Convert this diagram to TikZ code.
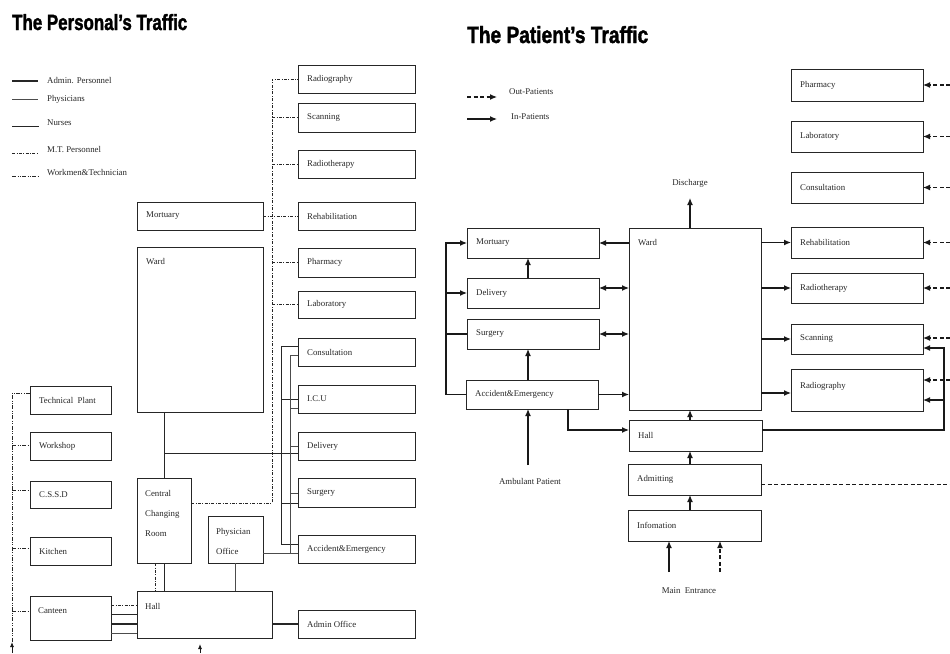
\documentclass[tikz,border=0pt]{standalone}
\usepackage{fontspec}
\usepackage{graphicx}
\setmainfont{Liberation Serif}
\newfontfamily\titlefont[BoldFeatures={FakeBold=1.8}]{Liberation Sans}
\usetikzlibrary{arrows.meta,calc}
\newcommand{\bxe}[5]{%
  \node[box, minimum width={#4pt-#2pt}, minimum height={#5pt-#3pt}] (#1) at ({(#2+#4)/2},{(#3+#5)/2}) {};}
\newcommand{\bx}[6]{%
  \bxe{#1}{#2}{#3}{#4}{#5}%
  \node[lbl, anchor=west] (#1t) at ([xshift=9pt]#1.west) {#6};}
\tikzset{
  box/.style={draw=black!85, line width=0.8pt, inner sep=0pt, outer sep=0pt},
  lbl/.style={inner sep=0pt, font=\fontsize{8.8}{10}\selectfont, text=black!85},
  admin/.style={line width=1.8pt, black!85},
  phys/.style={line width=0.45pt, black!70},
  nurse/.style={line width=0.9pt, black!85},
  mt/.style={line width=0.8pt, black!85, dash pattern=on 3pt off 1.5pt on 0.8pt off 1.5pt},
  wm/.style={line width=0.8pt, black!85, dash pattern=on 4pt off 1.5pt on 0.8pt off 1.5pt on 0.8pt off 1.5pt},
  >={Latex[length=7pt,width=6pt]},
  inpat/.style={line width=1.2pt, black!90},
  outpat/.style={line width=1.2pt, black!90, dash pattern=on 4pt off 2.5pt},
  smallarr/.style={line width=0.8pt, black!90, -{Latex[length=5pt,width=4pt]}},
}
\begin{document}
\begin{tikzpicture}[x=1pt,y=-1pt]
\useasboundingbox (0,0) rectangle (950,653);

% ---------------- titles
\node[inner sep=0pt, anchor=base west] (t1) at (12,30) {\resizebox{175pt}{16pt}{\titlefont\bfseries The Personal’s Traffic}};
\node[inner sep=0pt, anchor=base west] (t2) at (467,43) {\resizebox{181pt}{17pt}{\titlefont\bfseries The Patient’s Traffic}};

% ---------------- left legend
\draw[admin] (12,81) -- (38,81);
\node[lbl, anchor=west] (lg1) at (47,81) {Admin. Personnel};
\draw[phys] (12,99) -- (38,99);
\node[lbl, anchor=west] (lg2) at (47,99) {Physicians};
\draw[nurse] (12,126) -- (39,126);
\node[lbl, anchor=west] (lg3) at (47,123) {Nurses};
\draw[mt] (12,153) -- (38,153);
\node[lbl, anchor=west] (lg4) at (47,150) {M.T. Personnel};
\draw[wm] (12,176) -- (38,176);
\node[lbl, anchor=west] (lg5) at (47,173) {Workmen\&Technician};

% ---------------- left boxes
\bx{radioL}{298}{65}{415}{93}{Radiography}
\bx{scanL}{298}{103}{415}{132}{Scanning}
\bx{rthL}{298}{150}{415}{178}{Radiotherapy}
\bx{rehabL}{298}{202}{415}{230}{Rehabilitation}
\bx{pharmL}{298}{248}{415}{277}{Pharmacy}
\bx{labL}{298}{291}{415}{318}{Laboratory}
\bx{consL}{298}{338}{415}{366}{Consultation}
\bx{icuL}{298}{385}{415}{413}{I.C.U}
\bx{delL}{298}{432}{415}{460}{Delivery}
\bx{surgL}{298}{478}{415}{507}{Surgery}
\bx{aeL}{298}{535}{415}{563}{Accident\&Emergency}
\bx{admL}{298}{610}{415}{638}{Admin Office}
\bx{mortL}{137}{202}{263}{230}{Mortuary}
\bxe{wardL}{137}{247}{263}{412}
\node[lbl, anchor=west] (wardLt) at (146,262) {Ward};
\bxe{ccr}{137}{478}{191}{563}
\node[lbl, anchor=west, align=left] (ccrt) at (145,513) {Central\\[10pt]Changing\\[10pt]Room};
\bxe{phys}{208}{516}{263}{563}
\node[lbl, anchor=west, align=left] (physt) at (216,541) {Physician\\[10pt]Office};
\bxe{hallL}{137}{591}{272}{638}
\node[lbl, anchor=west] (hallLt) at (145,606) {Hall};
\bx{tech}{30}{386}{111}{414}{Technical\ \ Plant}
\bx{work}{30}{432}{111}{460}{Workshop}
\bx{cssd}{30}{481}{111}{508}{C.S.S.D}
\bx{kitch}{30}{537}{111}{565}{Kitchen}
\bxe{cant}{30}{596}{111}{640}
\node[lbl, anchor=west] (cantt) at (38,611) {Canteen};

% M.T. personnel
\coordinate (mtTop) at (272,79);
\coordinate (mtBot) at (272,503);
\draw[mt] (ccr.east |- mtBot) -- (mtBot) -- (mtTop) -- (radioL.west);
\foreach \b in {scanL,rthL,pharmL,labL} \draw[mt] (mtTop |- \b.west) -- (\b.west);
\draw[mt] (mortL.east) -- (rehabL.west);

% nurses
\coordinate (nx) at (164,453);
\draw[nurse] (wardL.south -| nx) -- (ccr.north -| nx);
\draw[nurse] (nx) -- (delL.west |- nx);
\coordinate (o1) at (281,346);
\coordinate (o2) at (281,544);
\coordinate (o3) at (281,503);
\draw[nurse] (consL.west |- o1) -- (o1) -- (o2) -- (aeL.west |- o2);
\draw[nurse] (o1 |- icuL.west) -- (icuL.west);
\draw[nurse] (o3) -- (surgL.west |- o3);

% physicians
\coordinate (p1) at (290,355);
\coordinate (p2) at (290,553);
\draw[phys] (consL.west |- p1) -- (p1) -- (p2);
\draw[phys] (phys.east |- p2) -- (aeL.west |- p2);
\foreach \b/\yy in {icuL/408,delL/446,surgL/493} \draw[phys] (290,\yy) -- (\b.west |- 290,\yy);
\draw[phys] (phys.south) -- (hallL.north -| phys.south);

% hall links
\coordinate (cx1) at (155,0);
\draw[mt] (ccr.south -| cx1) -- (hallL.north -| cx1);
\draw[nurse] (ccr.south -| nx) -- (hallL.north -| nx);
\draw[admin] (hallL.east |- admL.west) -- (admL.west);
\path ([yshift=13pt]cant.east) coordinate (ca1)
      ([yshift=4pt]cant.east) coordinate (ca2)
      ([yshift=-6pt]cant.east) coordinate (ca3)
      ([yshift=-15pt]cant.east) coordinate (ca4);
\draw[mt] (ca1) -- (ca1 -| hallL.west);
\draw[nurse] (ca2) -- (ca2 -| hallL.west);
\draw[admin] (ca3) -- (ca3 -| hallL.west);
\draw[phys] (ca4) -- (ca4 -| hallL.west);
\coordinate (hb) at (200,653);
\coordinate (ha) at (200,644);
\draw[smallarr] (hb) -- (ha);

% workmen
\coordinate (wTop) at (12,393);
\coordinate (wBot) at (12,643);
\draw[wm] (tech.west |- wTop) -- (wTop) -- (wBot);
\foreach \b/\yy in {work/445,cssd/490,kitch/548,cant/611} \draw[wm] (12,\yy) -- (\b.west |- 12,\yy);
\coordinate (wb) at (12,653);
\draw[smallarr] (wb) -- (12,642);

% ---------------- right legend
\draw[outpat,->] (467,97) -- (497,97);
\node[lbl, anchor=west] (lr1) at (509,92) {Out-Patients};
\draw[inpat,->] (467,119) -- (497,119);
\node[lbl, anchor=west] (lr2) at (511,117) {In-Patients};

% ---------------- right boxes
\bx{pharmR}{791}{69}{923}{101}{Pharmacy}
\bx{labR}{791}{121}{923}{152}{Laboratory}
\bx{consR}{791}{172}{923}{203}{Consultation}
\bx{rehabR}{791}{227}{923}{258}{Rehabilitation}
\bx{rthR}{791}{273}{923}{303}{Radiotherapy}
\bx{scanR}{791}{324}{923}{354}{Scanning}
\bxe{radioR}{791}{369}{923}{411}
\node[lbl, anchor=west] (radioRt) at (800,386) {Radiography};
\bx{mortR}{467}{228}{599}{258}{Mortuary}
\bx{delR}{467}{278}{599}{308}{Delivery}
\bx{surgR}{467}{319}{599}{349}{Surgery}
\bx{aeR}{466}{380}{598}{409}{Accident\&Emergency}
\bxe{wardR}{629}{228}{761}{410}
\node[lbl, anchor=west] (wardRt) at (638,243) {Ward};
\bx{hallR}{629}{420}{762}{451}{Hall}
\bx{admR}{628}{464}{761}{495}{Admitting}
\bx{infoR}{628}{510}{761}{541}{Infomation}

% ward left side
\draw[inpat,->] (wardR.west |- mortR.east) -- (mortR.east);
\path ([yshift=5pt]delR.east) coordinate (dE);
\draw[inpat,<->] (dE) -- (dE -| wardR.west);
\draw[inpat,<->] (surgR.east) -- (surgR.east -| wardR.west);
\draw[inpat,->] (aeR.east) -- (aeR.east -| wardR.west);
\coordinate (colA) at (528,0);
\draw[inpat,->] (delR.north -| colA) -- (mortR.south -| colA);
\draw[inpat,->] (aeR.north -| colA) -- (surgR.south -| colA);
\coordinate (ambS) at (528,465);
\draw[inpat,->] (ambS) -- (aeR.south -| colA);
\node[lbl] (ambT) at (530,481) {Ambulant Patient};
\coordinate (colB) at (568,0);
\path ([yshift=5.5pt]hallR.west) coordinate (hW);
\draw[inpat,->] (aeR.south -| colB) |- (hW);
\coordinate (lx) at (446,0);
\draw[inpat,->] (aeR.west) -| (lx |- mortR.west) -- (mortR.west);
\draw[inpat,->] (lx |- delR.west) -- (delR.west);
\draw[inpat] (lx |- surgR.west) -- (surgR.west);

% vertical spine
\coordinate (colC) at (690,0);
\coordinate (dis) at (690,198);
\draw[inpat,->] (wardR.north -| colC) -- (dis);
\node[lbl] (disT) at (690,183) {Discharge};
\draw[inpat,->] (hallR.north -| colC) -- (wardR.south -| colC);
\draw[inpat,->] (admR.north -| colC) -- (hallR.south -| colC);
\draw[inpat,->] (infoR.north -| colC) -- (admR.south -| colC);
\coordinate (m1) at (669,572);
\coordinate (m2) at (720,572);
\draw[inpat,->] (m1) -- (infoR.south -| m1);
\draw[outpat,->] (m2) -- (infoR.south -| m2);
\node[lbl] (mainT) at (689,591) {Main\ \ Entrance};

% ward right side
\draw[inpat,->] (wardR.east |- rehabR.west) -- (rehabR.west);
\draw[inpat,->] (wardR.east |- rthR.west) -- (rthR.west);
\draw[inpat,->] (wardR.east |- scanR.west) -- (scanR.west);
\path ([yshift=-3pt]radioR.west) coordinate (rW);
\draw[inpat,->] (wardR.east |- rW) -- (rW);

% hall to scanning / radiography
\coordinate (hx) at (944,0);
\path ([yshift=-9pt]scanR.east) coordinate (sE)
      ([yshift=-10pt]radioR.east) coordinate (rE)
      ([yshift=5.5pt]hallR.east) coordinate (hE);
\draw[inpat,->] (hE) -| (hx |- sE) -- (sE);
\draw[inpat,->] (hx |- rE) -- (rE);

% out-patient dashed arrows from the right edge
\coordinate (edge) at (950,0);
\foreach \b in {pharmR,labR,consR,rehabR,rthR} \draw[outpat,->] (edge |- \b.east) -- (\b.east);
\path ([yshift=1pt]scanR.east) coordinate (sD)
      ([yshift=10pt]radioR.east) coordinate (rD)
      ([yshift=-4.5pt]admR.east) coordinate (aD);
\draw[outpat,->] (edge |- sD) -- (sD);
\draw[outpat,->] (edge |- rD) -- (rD);
\draw[outpat, line width=1pt] (aD) -- (edge |- aD);
\end{tikzpicture}
\end{document}
